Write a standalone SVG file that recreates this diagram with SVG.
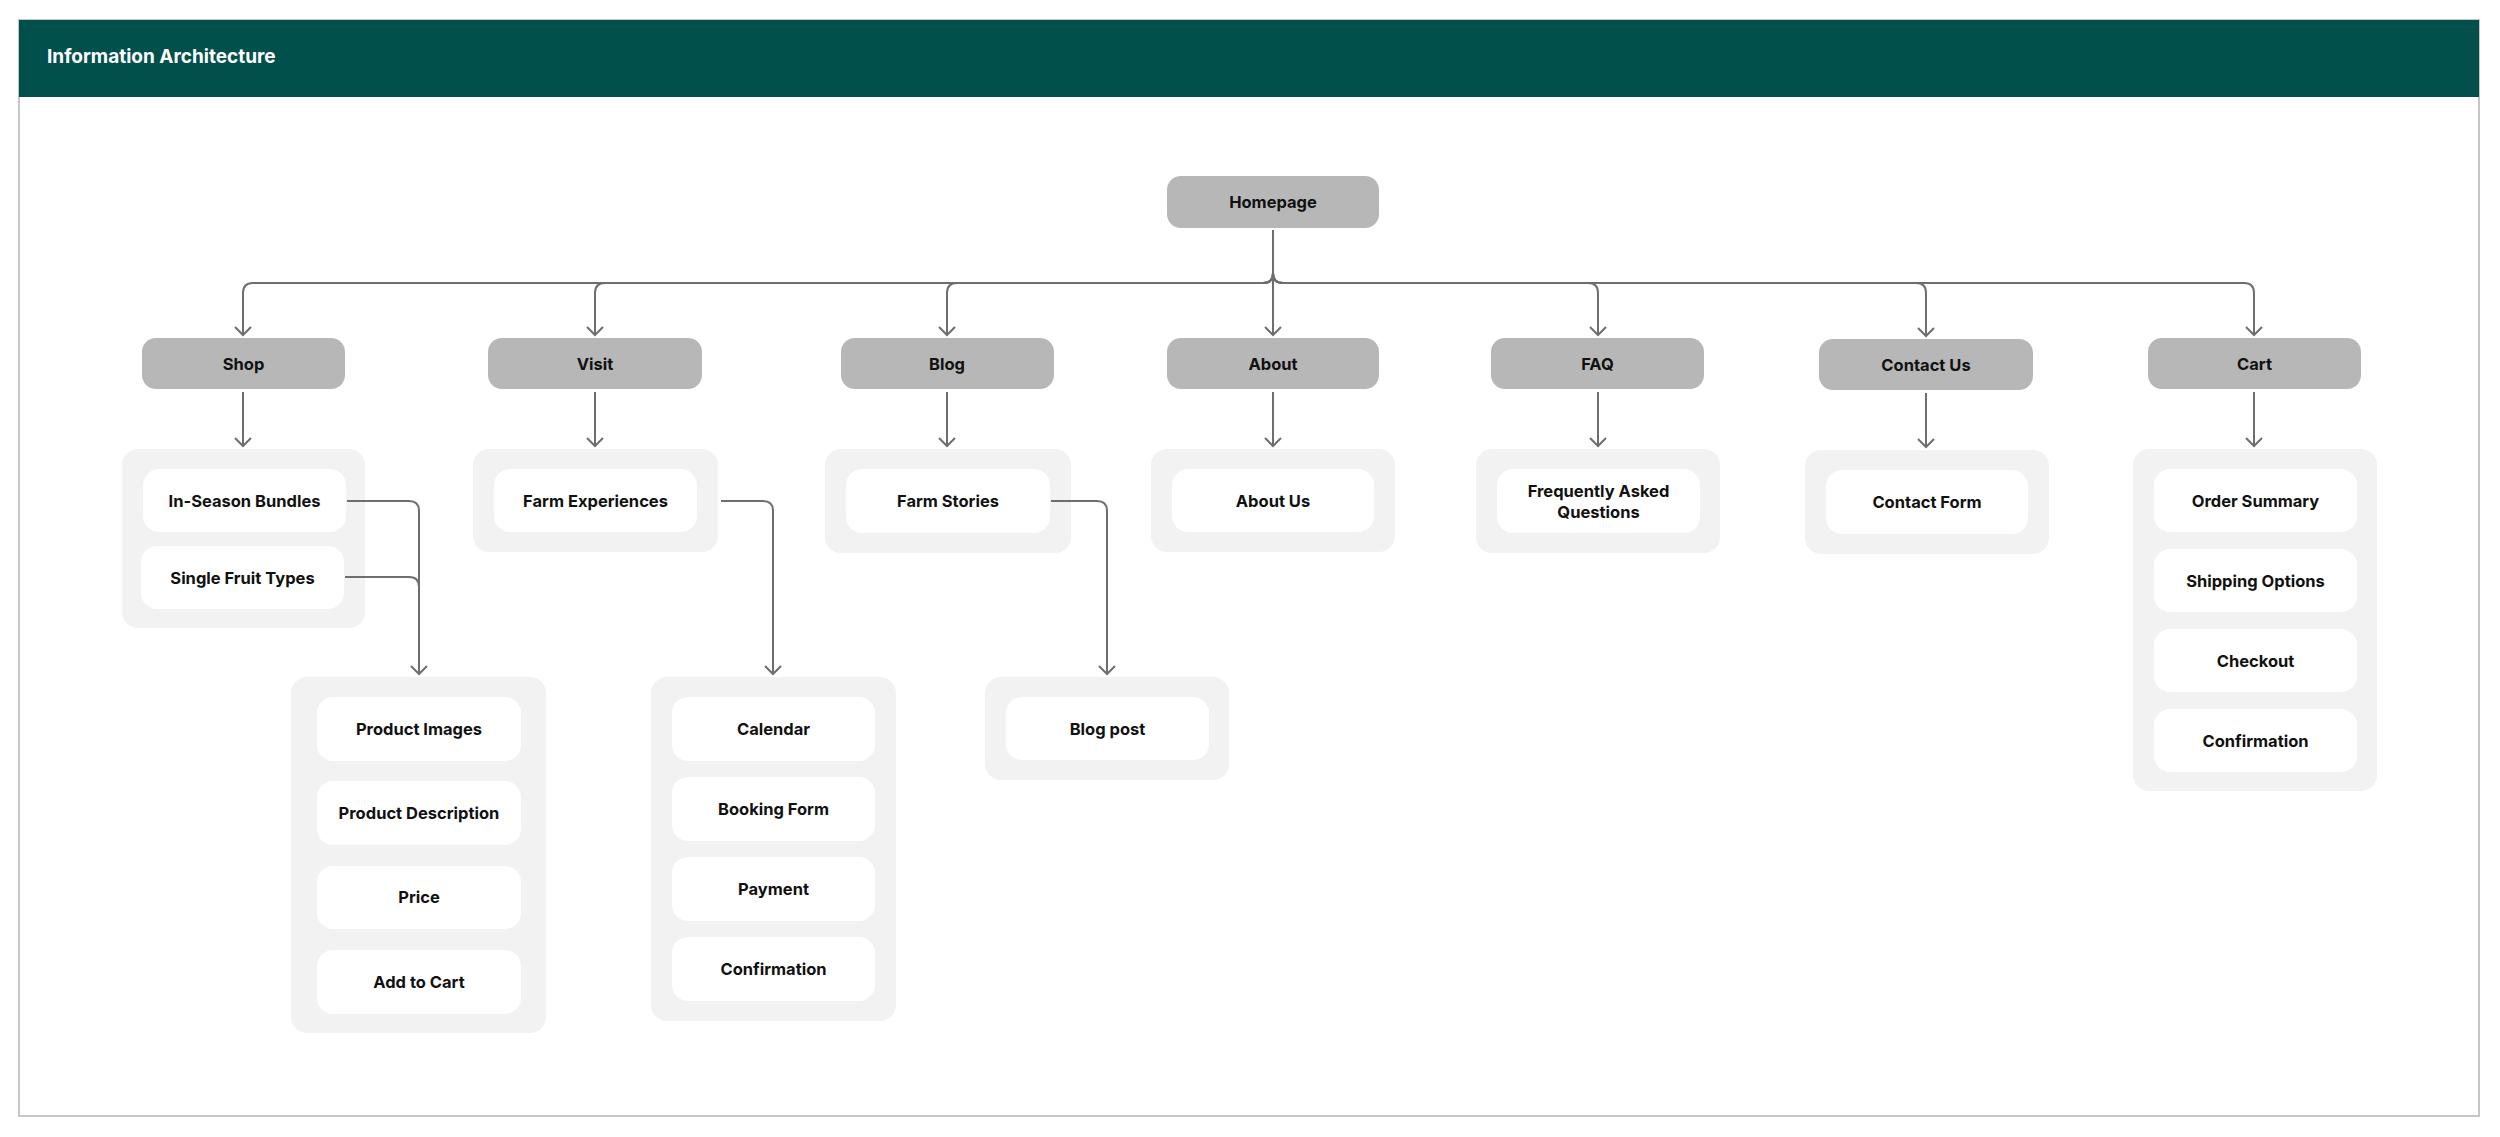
<svg xmlns="http://www.w3.org/2000/svg" width="2500" height="1137" viewBox="0 0 2500 1137">
<defs>
<style>
.frame{fill:#ffffff;stroke:#c6c6c6;stroke-width:2}
.hdr{fill:#02504c}
.title{font-family:Inter,"Liberation Sans",sans-serif;font-size:19px;font-weight:700;fill:#ffffff}
.l1{fill:#b7b7b7}
.grp{fill:#f2f2f2}
.item{fill:#ffffff}
.lbl{font-family:Inter,"Liberation Sans",sans-serif;font-size:16.5px;font-weight:700;fill:#111111;text-anchor:middle}
.conn{fill:none;stroke:#6e6e6e;stroke-width:2;marker-end:url(#arr)}
.conn2{fill:none;stroke:#6e6e6e;stroke-width:2}
</style>
<marker id="arr" markerUnits="userSpaceOnUse" markerWidth="24" markerHeight="24" viewBox="-12 -12 24 24" refX="0" refY="0" orient="auto">
<path d="M -8 -8 L 0 0 L -8 8" fill="none" stroke="#6e6e6e" stroke-width="2"/>
</marker>
</defs>
<rect width="2500" height="1137" fill="#ffffff"/>
<rect class="frame" x="19" y="20" width="2460" height="1096"/>
<rect class="hdr" x="19" y="20" width="2460" height="77"/>
<text class="title" x="47" y="63">Information Architecture</text>

<g id="homepage"><rect class="l1" x="1167" y="176" width="212" height="52" rx="14"/><text class="lbl" x="1273" y="208">Homepage</text></g>

<g id="shop"><rect class="l1" x="142" y="338" width="203" height="51" rx="14"/><text class="lbl" x="243.5" y="370">Shop</text></g>
<g id="visit"><rect class="l1" x="488" y="338" width="214" height="51" rx="14"/><text class="lbl" x="595" y="370">Visit</text></g>
<g id="blog"><rect class="l1" x="841" y="338" width="213" height="51" rx="14"/><text class="lbl" x="947" y="370">Blog</text></g>
<g id="about"><rect class="l1" x="1167" y="338" width="212" height="51" rx="14"/><text class="lbl" x="1273" y="370">About</text></g>
<g id="faq"><rect class="l1" x="1491" y="338" width="213" height="51" rx="14"/><text class="lbl" x="1597.5" y="370">FAQ</text></g>
<g id="contact-us"><rect class="l1" x="1819" y="339" width="214" height="51" rx="14"/><text class="lbl" x="1926" y="371">Contact Us</text></g>
<g id="cart"><rect class="l1" x="2148" y="338" width="213" height="51" rx="14"/><text class="lbl" x="2254.5" y="370">Cart</text></g>

<g id="shop-group">
<rect class="grp" x="122" y="449" width="243" height="179" rx="16"/>
<rect class="item" x="143" y="469" width="203" height="63" rx="16"/><text class="lbl" x="244.5" y="507">In-Season Bundles</text>
<rect class="item" x="141" y="546" width="203" height="63" rx="16"/><text class="lbl" x="242.5" y="584">Single Fruit Types</text>
</g>
<g id="visit-group">
<rect class="grp" x="473" y="449" width="245" height="103" rx="16"/>
<rect class="item" x="494" y="469" width="203" height="63" rx="16"/><text class="lbl" x="595.5" y="507">Farm Experiences</text>
</g>
<g id="blog-group">
<rect class="grp" x="825" y="449" width="246" height="104" rx="16"/>
<rect class="item" x="846" y="469" width="204" height="64" rx="16"/><text class="lbl" x="948" y="507">Farm Stories</text>
</g>
<g id="about-group">
<rect class="grp" x="1151" y="449" width="244" height="103" rx="16"/>
<rect class="item" x="1172" y="469" width="202" height="63" rx="16"/><text class="lbl" x="1273" y="507">About Us</text>
</g>
<g id="faq-group">
<rect class="grp" x="1476" y="449" width="244" height="104" rx="16"/>
<rect class="item" x="1497" y="469" width="203" height="64" rx="16"/><text class="lbl" x="1598.5" y="497">Frequently Asked</text><text class="lbl" x="1598.5" y="518">Questions</text>
</g>
<g id="contact-group">
<rect class="grp" x="1805" y="450" width="244" height="104" rx="16"/>
<rect class="item" x="1826" y="470" width="202" height="64" rx="16"/><text class="lbl" x="1927" y="508">Contact Form</text>
</g>
<g id="cart-group">
<rect class="grp" x="2133" y="449" width="244" height="342" rx="16"/>
<rect class="item" x="2154" y="469" width="203" height="63" rx="16"/><text class="lbl" x="2255.5" y="507">Order Summary</text>
<rect class="item" x="2154" y="549" width="203" height="63" rx="16"/><text class="lbl" x="2255.5" y="587">Shipping Options</text>
<rect class="item" x="2154" y="629" width="203" height="63" rx="16"/><text class="lbl" x="2255.5" y="667">Checkout</text>
<rect class="item" x="2154" y="709" width="203" height="63" rx="16"/><text class="lbl" x="2255.5" y="747">Confirmation</text>
</g>

<g id="product-group">
<rect class="grp" x="291" y="677" width="255" height="356" rx="16"/>
<rect class="item" x="317" y="697" width="204" height="64" rx="16"/><text class="lbl" x="419" y="735">Product Images</text>
<rect class="item" x="317" y="781" width="204" height="64" rx="16"/><text class="lbl" x="419" y="819">Product Description</text>
<rect class="item" x="317" y="866" width="204" height="63" rx="16"/><text class="lbl" x="419" y="903">Price</text>
<rect class="item" x="317" y="950" width="204" height="64" rx="16"/><text class="lbl" x="419" y="988">Add to Cart</text>
</g>
<g id="booking-group">
<rect class="grp" x="651" y="677" width="245" height="344" rx="16"/>
<rect class="item" x="672" y="697" width="203" height="64" rx="16"/><text class="lbl" x="773.5" y="735">Calendar</text>
<rect class="item" x="672" y="777" width="203" height="64" rx="16"/><text class="lbl" x="773.5" y="815">Booking Form</text>
<rect class="item" x="672" y="857" width="203" height="64" rx="16"/><text class="lbl" x="773.5" y="895">Payment</text>
<rect class="item" x="672" y="937" width="203" height="64" rx="16"/><text class="lbl" x="773.5" y="975">Confirmation</text>
</g>
<g id="blogpost-group">
<rect class="grp" x="985" y="677" width="244" height="103" rx="16"/>
<rect class="item" x="1006" y="697" width="203" height="63" rx="16"/><text class="lbl" x="1107.5" y="735">Blog post</text>
</g>

<g id="connectors">
<path class="conn" d="M1273 230 V273 Q1273 283 1263 283 H253 Q243 283 243 293 V335"/>
<path class="conn" d="M1273 230 V273 Q1273 283 1263 283 H605 Q595 283 595 293 V335"/>
<path class="conn" d="M1273 230 V273 Q1273 283 1263 283 H957 Q947 283 947 293 V335"/>
<path class="conn" d="M1273 230 V335"/>
<path class="conn" d="M1273 230 V273 Q1273 283 1283 283 H1588 Q1598 283 1598 293 V335"/>
<path class="conn" d="M1273 230 V273 Q1273 283 1283 283 H1916 Q1926 283 1926 293 V336"/>
<path class="conn" d="M1273 230 V273 Q1273 283 1283 283 H2244 Q2254 283 2254 293 V335"/>
<path class="conn" d="M243 392 V446"/>
<path class="conn" d="M595 392 V446"/>
<path class="conn" d="M947 392 V446"/>
<path class="conn" d="M1273 392 V446"/>
<path class="conn" d="M1598 392 V446"/>
<path class="conn" d="M1926 393 V447"/>
<path class="conn" d="M2254 392 V446"/>
<path class="conn" d="M347 501 H409 Q419 501 419 511 V674"/>
<path class="conn2" d="M345 577 H409 Q419 577 419 587 V600"/>
<path class="conn" d="M721 501 H763 Q773 501 773 511 V674"/>
<path class="conn" d="M1051 501 H1097 Q1107 501 1107 511 V674"/>
</g>
</svg>
